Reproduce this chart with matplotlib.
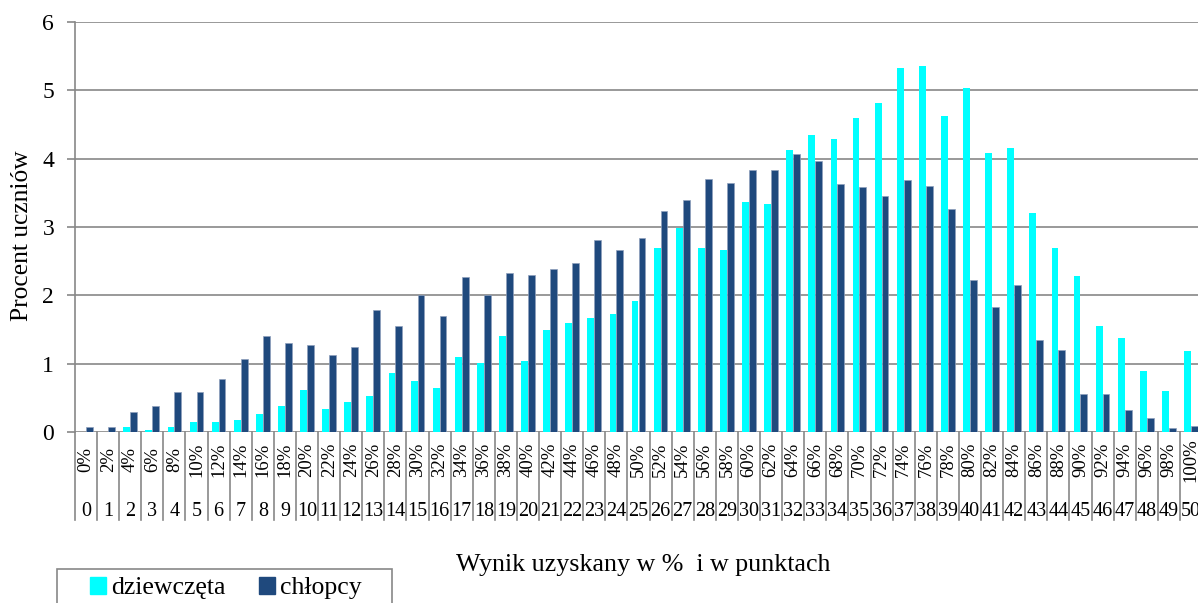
import numpy as np
import matplotlib
matplotlib.use('Agg')
import matplotlib.pyplot as plt
from matplotlib.patches import Rectangle, Patch

plt.rcParams['font.family'] = ['Liberation Serif', 'DejaVu Serif']

# wyniki: procent uczniów dla każdej liczby punktów (0-50)
punkty = [str(i) for i in range(51)]
procenty = [f'{2 * i}%' for i in range(51)]
dziewczeta = [0, 0, 0.07, 0.03, 0.07, 0.15, 0.15, 0.18, 0.27, 0.38,
              0.61, 0.33, 0.44, 0.52, 0.87, 0.75, 0.64, 1.10, 1.01, 1.41,
              1.04, 1.50, 1.59, 1.67, 1.73, 1.92, 2.70, 2.99, 2.70, 2.67,
              3.36, 3.33, 4.13, 4.35, 4.29, 4.60, 4.81, 5.32, 5.36, 4.63,
              5.03, 4.09, 4.15, 3.20, 2.69, 2.29, 1.55, 1.38, 0.89, 0.60,
              1.18]
chlopcy = [0.07, 0.07, 0.29, 0.38, 0.58, 0.58, 0.78, 1.07, 1.41, 1.30,
           1.27, 1.13, 1.24, 1.79, 1.55, 2.01, 1.70, 2.27, 2.01, 2.33,
           2.30, 2.39, 2.47, 2.81, 2.67, 2.84, 3.24, 3.39, 3.70, 3.64,
           3.84, 3.84, 4.07, 3.96, 3.63, 3.58, 3.46, 3.69, 3.60, 3.26,
           2.23, 1.83, 2.15, 1.35, 1.20, 0.55, 0.55, 0.32, 0.20, 0.06,
           0.09]

W, H = 1198, 603
kolor_dz = '#00FFFF'
kolor_ch = '#1F497D'
szary = '#878787'

fig = plt.figure(figsize=(W / 100, H / 100), dpi=100)
# osie wychodzą lekko poza prawą krawędź (jak w oryginale)
left, right, top, bottom = 75, 1202, 22, 432
ax = fig.add_axes([left / W, 1 - bottom / H, (right - left) / W, (bottom - top) / H])

x = np.arange(len(punkty))
w = 0.31
ax.bar(x - w / 2, dziewczeta, width=w, color=kolor_dz, zorder=3)
ax.bar(x + w / 2, chlopcy, width=w, color=kolor_ch, edgecolor='#8EA0BC', linewidth=0.5, zorder=3)

ax.set_xlim(-0.5, len(punkty) - 0.5)
ax.set_ylim(0, 6)
ax.set_yticks(range(7))
ax.yaxis.grid(True, color=szary, linewidth=1.2)
ax.set_axisbelow(True)
for s in ['top', 'right', 'bottom']:
    ax.spines[s].set_visible(False)
ax.spines['left'].set_color(szary)
ax.spines['left'].set_linewidth(1.2)
ax.tick_params(axis='y', length=6, width=1.2, color=szary, pad=9, labelsize=17)
ax.set_xticks([])

# tabela etykiet kategorii pod osią
tr = ax.get_xaxis_transform()
y_dol = (bottom - 520) / (bottom - top)
for i in range(len(punkty) + 1):
    ax.plot([i - 0.5, i - 0.5], [0, y_dol], color=szary, linewidth=1.2,
            transform=tr, clip_on=False)
for i in range(len(punkty)):
    ax.text(x[i], (bottom - 460) / (bottom - top), procenty[i], rotation=90,
            ha='center', va='center', fontsize=13.5, transform=tr)
    ax.text(x[i], (bottom - 512) / (bottom - top), punkty[i],
            ha='center', va='center', fontsize=14.5, transform=tr)

fig.text(22 / W, 1 - 236 / H, 'Procent uczniów', rotation=90,
         ha='center', va='center', fontsize=18.4)
fig.text(643 / W, 1 - 565 / H, 'Wynik uzyskany w %  i w punktach',
         ha='center', va='center', fontsize=18.7)

# legenda (ramka ucięta dolną krawędzią)
fig.patches.append(Rectangle((57 / W, 1 - 612 / H), (392 - 57) / W, (612 - 569) / H,
                             transform=fig.transFigure, fill=False,
                             edgecolor=szary, linewidth=1.2))
uchwyty = [Patch(color=kolor_dz), Patch(color=kolor_ch)]
fig.legend(uchwyty, ['dziewczęta', 'chłopcy'], loc='upper left',
           bbox_to_anchor=(90 / W, 1 - 577 / H), ncol=2, frameon=False,
           fontsize=18.5, handlelength=0.62, handleheight=0.62,
           handletextpad=0.2, columnspacing=1.3, borderpad=0, borderaxespad=0)

fig.savefig('out.png', dpi=100)
